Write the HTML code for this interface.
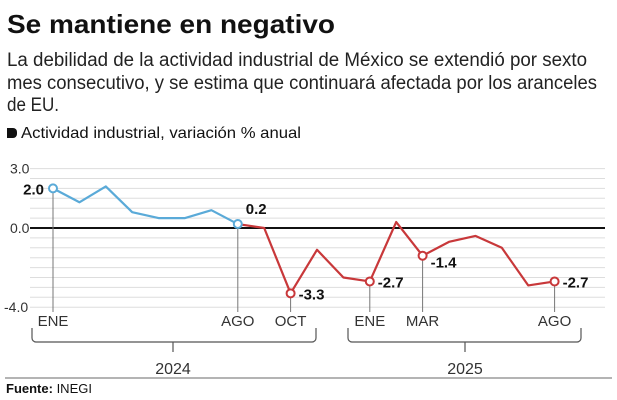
<!DOCTYPE html>
<html><head><meta charset="utf-8"><style>
body{margin:0;background:#fff;width:617px;height:400px;overflow:hidden}
svg{display:block;font-family:"Liberation Sans",sans-serif}
</style></head><body>
<svg width="617" height="400" viewBox="0 0 617 400">
<text x="7" y="33" font-size="26" font-weight="bold" fill="#111" textLength="328" lengthAdjust="spacingAndGlyphs">Se mantiene en negativo</text>
<g font-size="19" fill="#222">
<text x="7" y="66" textLength="580" lengthAdjust="spacingAndGlyphs">La debilidad de la actividad industrial de México se extendió por sexto</text>
<text x="7" y="89" textLength="590" lengthAdjust="spacingAndGlyphs">mes consecutivo, y se estima que continuará afectada por los aranceles</text>
<text x="7" y="111" textLength="52" lengthAdjust="spacingAndGlyphs">de EU.</text>
</g>
<path d="M7 128h6a4 4 0 0 1 4 4v2a4 4 0 0 1-4 4h-6z" fill="#111"/>
<text x="21" y="138" font-size="16" fill="#111" textLength="280" lengthAdjust="spacingAndGlyphs">Actividad industrial, variación % anual</text>
<g id="grid"></g>
<g id="marks"></g>
<g stroke="#555" stroke-width="1.2" fill="none">
<path d="M32 328v10a4 4 0 0 0 4 4h276a4 4 0 0 0 4-4v-10M173 342v10"/>
<path d="M348 328v10a4 4 0 0 0 4 4h225a4 4 0 0 0 4-4v-10M465 342v10"/>
</g>
<text x="173" y="374" font-size="16" fill="#333" text-anchor="middle">2024</text>
<text x="465" y="374" font-size="16" fill="#333" text-anchor="middle">2025</text>
<line x1="5" y1="378" x2="612" y2="378" stroke="#888" stroke-width="1.2"/>
<text x="6" y="393" font-size="13" fill="#111"><tspan font-weight="bold">Fuente:</tspan> INEGI</text>
</svg>
<script>
const months=["ENE","FEB","MAR","ABR","MAY","JUN","JUL","AGO","SEP","OCT","NOV","DIC","ENE","FEB","MAR","ABR","MAY","JUN","JUL","AGO"];
const values=[2.0,1.3,2.1,0.8,0.5,0.5,0.9,0.2,0.0,-3.3,-1.1,-2.5,-2.7,0.3,-1.4,-0.7,-0.4,-1.0,-2.9,-2.7];
const yTicks=[3.0,0.0,-4.0];
const shownMonths=[0,7,9,12,14,19];
const labeled=[0,7,9,12,14,19];
const NS="http://www.w3.org/2000/svg";
const x=i=>53+i*26.4;
const y=v=>228-v*19.8;
function mk(t,a,p){const e=document.createElementNS(NS,t);for(const k in a)e.setAttribute(k,a[k]);p.appendChild(e);return e;}
const grid=document.getElementById('grid'),marks=document.getElementById('marks');
for(let v=-4;v<=3.001;v+=0.5){
 const l=mk('line',{x1:30,x2:605,y1:y(v),y2:y(v),stroke:'#ddd','stroke-width':1},grid);
 
 
}
const z=mk('line',{x1:30,x2:605,y1:y(0),y2:y(0),stroke:'#111','stroke-width':2},grid);


yTicks.forEach(v=>{
 const t=mk('text',{x:v<0?4:10,y:y(v)+5,'font-size':14,fill:'#333'},grid);
 t.textContent=v.toFixed(1);
 
 
});
shownMonths.forEach(i=>{
 const l=mk('line',{x1:x(i),x2:x(i),y1:y(values[i]),y2:312,stroke:'#777','stroke-width':1},marks);
 
 
 const t=mk('text',{x:x(i),y:326,'font-size':15,fill:'#333','text-anchor':'middle'},marks);
 t.textContent=months[i];
 
 
});
const split=7;
let pb='',pr='';
values.forEach((v,i)=>{if(i<=split)pb+=(i?'L':'M')+x(i)+' '+y(v);if(i>=split)pr+=(i>split?'L':'M')+x(i)+' '+y(v);});
const lb=mk('path',{d:pb,fill:'none',stroke:'#5aaad8','stroke-width':2.2,'stroke-linejoin':'round'},marks);


const lr=mk('path',{d:pr,fill:'none',stroke:'#c8383a','stroke-width':2.2,'stroke-linejoin':'round'},marks);


labeled.forEach(i=>{
 const blue=i<split;
 const c=mk('circle',{cx:x(i),cy:y(values[i]),r:4,fill:'#fff',stroke:blue||i==split?'#5aaad8':'#c8383a','stroke-width':2},marks);
 
 
 let tx,ty,anchor='start';
 if(i==0){tx=x(i)-9;ty=y(values[i])+6;anchor='end';}
 else if(i==split){tx=x(i)+8;ty=y(values[i])-10;}
 else{tx=x(i)+8;ty=y(values[i])+(i==14?12:6);}
 const t=mk('text',{x:tx,y:ty,'font-size':15,'font-weight':'bold',fill:'#111','text-anchor':anchor},marks);
 t.textContent=values[i].toFixed(1);
 
 
});
</script>
</body></html>
